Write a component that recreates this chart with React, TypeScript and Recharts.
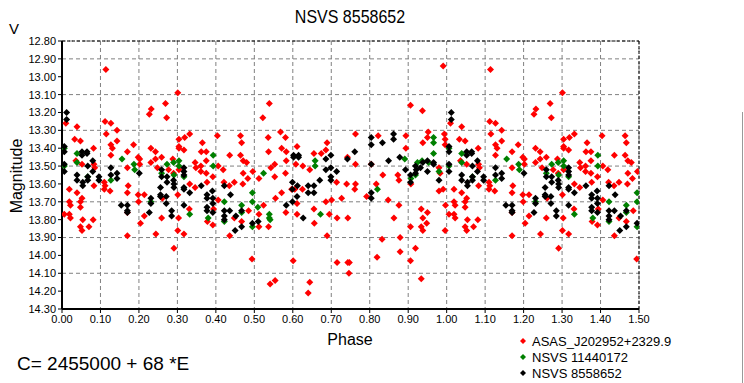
import { ScatterChart, Scatter, XAxis, YAxis, CartesianGrid, ReferenceLine } from 'recharts';

// phase (0..1) / magnitude pairs; phases < 0.5 get repeated at +1
const asasPoints: [number, number][] = [
  [0.114, 12.96], [0.232, 13.18], [0.227, 13.21], [0.010, 13.26], [0.039, 13.28], [0.112, 13.25], [0.127, 13.26],
  [0.115, 13.32], [0.143, 13.30], [0.033, 13.35], [0.048, 13.36], [0.143, 13.36], [0.127, 13.38], [0.131, 13.40],
  [0.127, 13.44], [0.186, 13.38], [0.170, 13.42], [0.231, 13.40], [0.243, 13.42], [0.243, 13.46], [0.231, 13.48],
  [0.198, 13.45], [0.202, 13.46], [0.202, 13.49], [0.248, 13.51], [0.170, 13.51], [0.082, 13.40], [0.036, 13.47],
  [0.052, 13.49], [0.083, 13.49], [0.085, 13.51], [0.083, 13.61], [0.019, 13.63], [0.039, 13.65], [0.052, 13.68],
  [0.048, 13.70], [0.048, 13.73], [0.019, 13.70], [0.022, 13.72], [0.110, 13.59], [0.112, 13.61], [0.110, 13.63],
  [0.125, 13.64], [0.172, 13.61], [0.170, 13.65], [0.198, 13.66], [0.214, 13.66], [0.199, 13.70], [0.170, 13.76],
  [0.214, 13.78], [0.204, 13.82], [0.006, 13.77], [0.019, 13.77], [0.022, 13.79], [0.054, 13.80], [0.081, 13.80],
  [0.048, 13.84], [0.052, 13.86], [0.070, 13.84], [0.170, 13.89], [0.244, 13.88],
  [0.301, 13.09], [0.269, 13.15], [0.272, 13.23], [0.332, 13.32], [0.319, 13.34], [0.304, 13.35], [0.304, 13.39],
  [0.304, 13.40], [0.317, 13.41], [0.404, 13.33], [0.365, 13.37], [0.464, 13.33], [0.467, 13.37], [0.362, 13.42],
  [0.375, 13.42], [0.436, 13.44], [0.464, 13.44], [0.471, 13.47], [0.480, 13.48], [0.375, 13.47], [0.346, 13.48],
  [0.361, 13.50], [0.361, 13.53], [0.375, 13.54], [0.348, 13.51], [0.392, 13.56], [0.406, 13.50], [0.419, 13.52],
  [0.496, 13.53], [0.471, 13.54], [0.483, 13.57], [0.470, 13.60], [0.448, 13.59], [0.435, 13.61], [0.421, 13.59],
  [0.377, 13.59], [0.332, 13.60], [0.346, 13.62], [0.259, 13.45], [0.277, 13.52], [0.288, 13.46], [0.304, 13.52],
  [0.290, 13.54], [0.301, 13.66], [0.261, 13.68], [0.406, 13.69], [0.331, 13.74], [0.394, 13.74], [0.485, 13.75],
  [0.259, 13.79], [0.303, 13.79], [0.378, 13.81], [0.392, 13.83], [0.448, 13.79], [0.467, 13.81], [0.301, 13.86],
  [0.317, 13.88], [0.436, 13.89], [0.291, 13.96], [0.494, 14.02],
  [0.539, 13.15], [0.522, 13.23], [0.536, 13.34], [0.537, 13.42], [0.568, 13.31], [0.581, 13.34], [0.571, 13.40],
  [0.583, 13.42], [0.611, 13.39], [0.689, 13.37], [0.686, 13.41], [0.655, 13.43], [0.674, 13.43], [0.583, 13.47],
  [0.608, 13.49], [0.626, 13.50], [0.644, 13.52], [0.512, 13.57], [0.543, 13.51], [0.553, 13.49], [0.553, 13.56],
  [0.581, 13.54], [0.571, 13.65], [0.555, 13.68], [0.524, 13.72], [0.512, 13.77], [0.512, 13.84], [0.582, 13.76],
  [0.597, 13.63], [0.605, 13.63], [0.625, 13.63], [0.611, 13.71], [0.611, 13.77], [0.655, 13.74], [0.656, 13.82],
  [0.686, 13.70], [0.701, 13.69], [0.714, 13.59], [0.727, 13.68], [0.695, 13.77], [0.715, 13.79], [0.743, 13.79],
  [0.689, 13.89], [0.537, 13.84], [0.601, 14.03], [0.541, 14.16], [0.554, 14.14], [0.644, 14.15], [0.640, 14.21],
  [0.715, 14.04], [0.743, 14.04], [0.747, 14.04], [0.746, 14.10], [0.742, 13.45],
  [0.991, 12.94], [0.906, 13.16], [0.937, 13.19], [0.763, 13.32], [0.822, 13.33], [0.894, 13.33], [0.894, 13.40],
  [0.952, 13.31], [0.950, 13.34], [0.938, 13.37], [0.994, 13.32], [0.996, 13.35], [0.996, 13.38], [0.763, 13.49],
  [0.804, 13.49], [0.834, 13.55], [0.873, 13.55], [0.876, 13.58], [0.740, 13.60], [0.763, 13.60], [0.761, 13.63],
  [0.817, 13.60], [0.792, 13.67], [0.848, 13.69], [0.907, 13.60], [0.980, 13.51], [0.983, 13.54], [0.980, 13.64],
  [0.991, 13.63], [0.997, 13.72], [0.876, 13.72], [0.934, 13.74], [0.950, 13.76], [0.938, 13.79], [0.948, 13.82],
  [0.863, 13.79], [0.906, 13.84], [0.934, 13.84], [0.938, 13.86], [0.996, 13.86], [0.832, 13.91], [0.879, 13.90],
  [0.919, 13.96], [0.819, 14.01], [0.879, 13.98], [0.906, 14.03], [0.934, 14.13],
];

const nsvs11440172Points: [number, number][] = [
  [0.006, 13.40], [0.006, 13.50], [0.039, 13.43], [0.039, 13.48], [0.067, 13.56], [0.127, 13.58], [0.156, 13.46],
  [0.187, 13.49], [0.189, 13.52], [0.231, 13.70],
  [0.273, 13.49], [0.290, 13.48], [0.304, 13.47], [0.304, 13.50], [0.259, 13.54], [0.291, 13.55], [0.317, 13.56],
  [0.393, 13.44], [0.393, 13.50], [0.332, 13.77], [0.380, 13.79], [0.422, 13.70], [0.422, 13.81], [0.467, 13.72],
  [0.467, 13.76], [0.495, 13.65], [0.495, 13.70], [0.495, 13.84],
  [0.524, 13.54], [0.509, 13.73], [0.539, 13.77], [0.539, 13.79], [0.541, 13.80], [0.658, 13.47], [0.658, 13.50],
  [0.672, 13.77],
  [0.891, 13.46], [0.924, 13.48], [0.936, 13.47], [0.953, 13.48], [0.966, 13.34], [0.966, 13.37], [0.966, 13.43],
  [0.980, 13.53], [0.907, 13.57], [0.919, 13.55], [0.820, 13.63],
];

const nsvs8558652Points: [number, number][] = [
  [0.012, 13.20], [0.012, 13.24], [0.006, 13.39], [0.006, 13.42], [0.006, 13.49], [0.006, 13.53], [0.052, 13.42],
  [0.065, 13.42], [0.052, 13.44], [0.065, 13.43], [0.080, 13.47], [0.067, 13.50], [0.080, 13.53], [0.039, 13.55],
  [0.039, 13.58], [0.054, 13.59], [0.054, 13.61], [0.067, 13.56], [0.067, 13.58], [0.096, 13.56], [0.096, 13.58],
  [0.127, 13.51], [0.127, 13.55], [0.143, 13.54], [0.143, 13.57], [0.201, 13.54], [0.154, 13.72], [0.170, 13.72],
  [0.170, 13.75], [0.170, 13.76], [0.231, 13.68], [0.231, 13.71], [0.227, 13.76],
  [0.259, 13.52], [0.259, 13.56], [0.273, 13.56], [0.273, 13.59], [0.290, 13.58], [0.291, 13.60], [0.291, 13.62],
  [0.317, 13.51], [0.317, 13.53], [0.317, 13.55], [0.317, 13.62], [0.317, 13.63], [0.332, 13.65], [0.362, 13.61],
  [0.256, 13.62], [0.256, 13.66], [0.256, 13.67], [0.271, 13.67], [0.271, 13.71], [0.285, 13.75], [0.285, 13.78],
  [0.317, 13.72], [0.377, 13.66], [0.377, 13.68], [0.377, 13.73], [0.377, 13.75], [0.391, 13.64], [0.392, 13.68],
  [0.392, 13.71], [0.392, 13.76], [0.422, 13.61], [0.438, 13.66], [0.422, 13.75], [0.422, 13.78], [0.436, 13.75],
  [0.422, 13.80], [0.452, 13.78], [0.467, 13.75], [0.467, 13.84], [0.450, 13.86], [0.495, 13.82],
  [0.510, 13.81], [0.602, 13.44], [0.615, 13.44], [0.602, 13.45], [0.615, 13.45], [0.599, 13.59], [0.599, 13.63],
  [0.612, 13.61], [0.611, 13.67], [0.599, 13.70], [0.583, 13.72], [0.640, 13.61], [0.655, 13.61], [0.640, 13.65],
  [0.655, 13.65], [0.627, 13.79], [0.670, 13.58], [0.686, 13.46], [0.686, 13.52], [0.699, 13.44], [0.699, 13.51],
  [0.699, 13.56], [0.699, 13.58], [0.714, 13.53], [0.742, 13.46],
  [0.804, 13.34], [0.804, 13.38], [0.862, 13.32], [0.862, 13.35], [0.833, 13.37], [0.761, 13.42], [0.804, 13.49],
  [0.849, 13.47], [0.878, 13.45], [0.893, 13.52], [0.906, 13.55], [0.906, 13.59], [0.919, 13.50], [0.921, 13.52],
  [0.932, 13.51], [0.938, 13.48], [0.950, 13.47], [0.966, 13.48], [0.966, 13.49], [0.950, 13.53], [0.919, 13.54],
  [0.804, 13.65], [0.804, 13.68], [0.980, 13.58],
];

const xTicks = [0, 0.1, 0.2, 0.3, 0.4, 0.5, 0.6, 0.7, 0.8, 0.9, 1.0, 1.1, 1.2, 1.3, 1.4, 1.5];
const yTicks = [12.8, 12.9, 13.0, 13.1, 13.2, 13.3, 13.4, 13.5, 13.6, 13.7, 13.8, 13.9, 14.0, 14.1, 14.2, 14.3];

const seriesNames = ['ASAS_J202952+2329.9', 'NSVS 11440172', 'NSVS 8558652'];
const seriesColors = ['#ff0000', '#008000', '#000000'];

const fold = (pts: [number, number][]) =>
  [...pts, ...pts.filter((p) => p[0] < 0.5).map((p) => [p[0] + 1, p[1]] as [number, number])].map(([x, y]) => ({ x, y }));

const seriesData = [asasPoints, nsvs11440172Points, nsvs8558652Points].map(fold);

function Diamond(props: any) {
  const { cx, cy, fill } = props;
  const r = 3.5;
  return <polygon points={`${cx},${cy - r} ${cx + r},${cy} ${cx},${cy + r} ${cx - r},${cy}`} fill={fill} />;
}

const FONT = 'Arial, "Liberation Sans", sans-serif';

export default function App() {
  return (
    <div style={{ position: 'absolute', left: 0, top: 0, width: 744, height: 383, background: '#fff', fontFamily: FONT, overflow: 'hidden' }}>
      <div style={{ position: 'absolute', left: 0, width: 700, top: 8, textAlign: 'center', fontSize: 16, transform: 'scaleY(1.15)' }}>
        NSVS 8558652
      </div>
      <div style={{ position: 'absolute', left: 9, top: 20, fontSize: 15 }}>V</div>
      <div style={{ position: 'absolute', left: 17, top: 176, fontSize: 16, transform: 'translate(-50%, -50%) rotate(-90deg)', whiteSpace: 'nowrap' }}>
        Magnitude
      </div>

      <ScatterChart width={744} height={383} margin={{ top: 41, right: 105, bottom: 0, left: 0 }}>
        <CartesianGrid stroke="#808080" strokeDasharray="4 3" />
        <XAxis
          type="number"
          dataKey="x"
          domain={[0, 1.5]}
          ticks={xTicks}
          tickFormatter={(v: number) => v.toFixed(2)}
          height={74}
          tick={{ fontSize: 11, fill: '#000', fontFamily: FONT }}
          tickSize={4}
          tickMargin={2}
          axisLine={{ stroke: '#000', strokeWidth: 2 }}
          tickLine={{ stroke: '#000' }}
          allowDataOverflow
        />
        <YAxis
          type="number"
          dataKey="y"
          domain={[12.8, 14.3]}
          reversed
          ticks={yTicks}
          tickFormatter={(v: number) => v.toFixed(2)}
          width={62}
          tick={{ fontSize: 11, fill: '#000', fontFamily: FONT }}
          tickSize={4}
          tickMargin={2}
          axisLine={{ stroke: '#000', strokeWidth: 2 }}
          tickLine={{ stroke: '#000' }}
          allowDataOverflow
        />
        <ReferenceLine y={12.8} stroke="#000" strokeDasharray="3 2" />
        <ReferenceLine x={1.5} stroke="#000" strokeDasharray="3 2" />
        {seriesData.map((data, i) => (
          <Scatter
            key={seriesNames[i]}
            name={seriesNames[i]}
            data={data}
            fill={seriesColors[i]}
            shape={(p: any) => <Diamond {...p} fill={seriesColors[i]} />}
            isAnimationActive={false}
          />
        ))}
      </ScatterChart>

      <div style={{ position: 'absolute', left: 350, top: 340, transform: 'translate(-50%, -50%)', fontSize: 16 }}>Phase</div>
      <div style={{ position: 'absolute', left: 17, top: 353, fontSize: 19 }}>C= 2455000 + 68 *E</div>

      <div style={{ position: 'absolute', left: 518, top: 333 }}>
        {seriesNames.map((name, i) => (
          <div key={name} style={{ display: 'flex', alignItems: 'center', height: 16, fontSize: 13 }}>
            <svg width={10} height={10} style={{ marginRight: 4 }}>
              <polygon points="5,2 8,5 5,8 2,5" fill={seriesColors[i]} />
            </svg>
            {name}
          </div>
        ))}
      </div>
      <div style={{ position: 'absolute', left: 742, top: 112, width: 1, height: 271, background: '#999' }} />
    </div>
  );
}
